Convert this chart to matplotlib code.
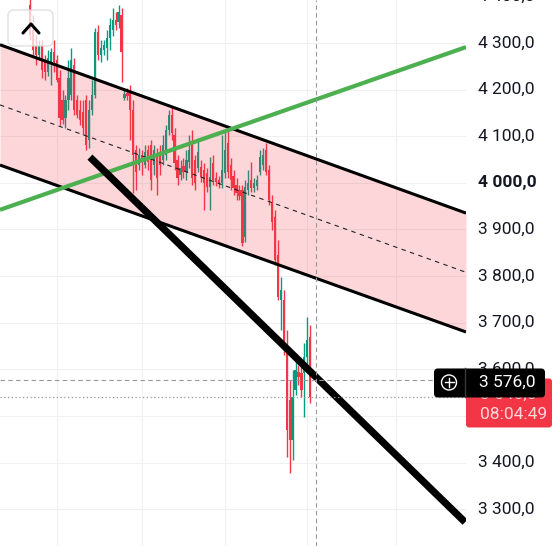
import matplotlib
matplotlib.use("Agg")
import matplotlib.pyplot as plt
from matplotlib.patches import FancyBboxPatch, Circle
import numpy as np

plt.rcParams['font.family'] = ['Roboto', 'DejaVu Sans']

# one candle per bar, prices
opens = [4382, 4328, 4296, 4274, 4296, 4264, 4238, 4259, 4281, 4264,
         4225, 4178, 4139, 4178, 4188, 4253, 4178, 4156, 4152, 4178,
         4092, 4156, 4188, 4324, 4274, 4285, 4289, 4311, 4328, 4349,
         4345, 4360, 4182, 4193, 4195, 4156, 4070, 4038, 4060, 4038,
         4070, 4081, 4038, 4060, 4060, 4049, 4060, 4113, 4146, 4103,
         4049, 4017, 4036, 4023, 4045, 4088, 4049, 4032, 4034, 4027,
         4021, 3991, 4043, 4010, 4006, 4000, 4021, 4085, 4038, 4015,
         3995, 3985, 3985, 3884, 3985, 4006, 3989, 3993, 4023, 4038,
         4070, 4027, 3957, 3927, 3845, 3749, 3749, 3652, 3534, 3448,
         3555, 3594, 3592, 3592, 3626, 3669]
highs = [4414, 4360, 4317, 4306, 4306, 4274, 4285, 4289, 4306, 4274,
         4242, 4199, 4188, 4264, 4289, 4268, 4188, 4178, 4178, 4188,
         4178, 4221, 4332, 4339, 4306, 4306, 4328, 4354, 4375, 4367,
         4382, 4375, 4199, 4203, 4210, 4178, 4081, 4075, 4070, 4081,
         4081, 4092, 4081, 4075, 4081, 4103, 4124, 4156, 4163, 4118,
         4060, 4049, 4053, 4070, 4103, 4113, 4060, 4092, 4049, 4043,
         4032, 4055, 4060, 4023, 4015, 4103, 4109, 4113, 4053, 4027,
         4010, 3995, 3995, 4006, 4027, 4045, 4010, 4017, 4070, 4075,
         4085, 4038, 3974, 3942, 3877, 3798, 3770, 3684, 3577, 3598,
         3620, 3609, 3609, 3656, 3712, 3695]
lows = [4306, 4274, 4253, 4264, 4225, 4221, 4229, 4210, 4238, 4216,
        4124, 4126, 4118, 4156, 4178, 4146, 4139, 4124, 4103, 4070,
        4075, 4146, 4182, 4264, 4259, 4274, 4264, 4285, 4315, 4328,
        4332, 4216, 4178, 4178, 4092, 3978, 3985, 4027, 4017, 4032,
        4027, 3985, 4017, 3974, 4017, 4038, 4049, 4103, 4092, 4027,
        3995, 4006, 4010, 4006, 4032, 3995, 3985, 4023, 4002, 3942,
        3980, 3942, 3995, 3993, 3989, 3989, 4010, 4010, 3985, 3974,
        3963, 3963, 3864, 3873, 3974, 3980, 3980, 3985, 4017, 4027,
        4017, 3952, 3899, 3824, 3749, 3684, 3631, 3412, 3377, 3405,
        3545, 3566, 3540, 3497, 3609, 3527]
closes = [4317, 4285, 4274, 4296, 4242, 4238, 4268, 4281, 4259, 4221,
          4139, 4135, 4178, 4225, 4264, 4156, 4146, 4135, 4118, 4081,
          4156, 4188, 4324, 4274, 4289, 4296, 4311, 4339, 4349, 4339,
          4367, 4281, 4191, 4186, 4156, 4060, 4023, 4060, 4045, 4066,
          4045, 4006, 4070, 4010, 4038, 4081, 4113, 4146, 4107, 4043,
          4010, 4032, 4023, 4049, 4070, 4010, 4000, 4066, 4012, 4000,
          3991, 4012, 4006, 4002, 3997, 4027, 4070, 4023, 4006, 3989,
          3978, 3972, 3871, 3991, 4000, 3989, 4000, 4006, 4055, 4060,
          4023, 3963, 3916, 3834, 3755, 3770, 3648, 3470, 3448, 3540,
          3598, 3583, 3555, 3626, 3663, 3540]

# drawings: (bar index, price) at both ends
channel_top = [(-10.2, 4296), (147.8, 3935)]
channel_bottom = [(-10.2, 4038), (147.8, 3680)]
channel_mid = [(-10.2, 4167), (147.8, 3808)]
green_line = [(-10.2, 3942), (147.8, 4291)]
black_line = [(20.3, 4055), (147.5, 3272)]

price_levels = [3300, 3400, 3500, 3600, 3700, 3800, 3900, 4000, 4100, 4200, 4300, 4400]
bold_level = 4000
time_grid = [9, 38, 66, 94, 124]
cursor_bar = 97
cursor_price = 3576.0
last_price = 3540.0
countdown = "08:04:49"

UP = '#089981'
DOWN = '#f23645'


def fmt(v):
    return f"{v:,.1f}".replace(",", " ").replace(".", ",")


fig = plt.figure(figsize=(5.6, 5.46), dpi=100)
ax = fig.add_axes([0, 0, 466 / 560, 1])
ax.set_xlim(-10.2, 147.8)
ax.set_ylim(3221, 4392)
ax.axis('off')

for v in price_levels:
    ax.axhline(v, color='#f0f0f0', lw=0.8, zorder=0)
for t in time_grid:
    ax.axvline(t, color='#f0f0f0', lw=0.8, zorder=0)

# candles
o, h, l, c = (np.array(a, dtype=float) for a in (opens, highs, lows, closes))
x = np.arange(len(o))
cols = np.where(c >= o, UP, DOWN)
ax.vlines(x, l, h, colors=cols, lw=1.0, zorder=2)
ax.bar(x, np.maximum(np.abs(c - o), 2.5), bottom=np.minimum(o, c), width=0.75,
       color=cols, lw=0, zorder=3)

# channel
xs = [channel_top[0][0], channel_top[1][0]]
ax.fill_between(xs, [p[1] for p in channel_bottom], [p[1] for p in channel_top],
                color=DOWN, alpha=0.2, lw=0, zorder=4)


def seg(pts, **kw):
    ax.plot([p[0] for p in pts], [p[1] for p in pts], solid_capstyle='butt', **kw)


seg(channel_top, color='black', lw=2.2, zorder=5)
seg(channel_bottom, color='black', lw=2.2, zorder=5)
ax.plot([p[0] for p in channel_mid], [p[1] for p in channel_mid], color='#222222',
        lw=0.8, ls=(0, (4, 4)), zorder=5)
seg(green_line, color='#4caf50', lw=3.0, zorder=5)
seg(black_line, color='black', lw=5.2, zorder=6)

# crosshair and last price
ax.axvline(cursor_bar, color='#9598a1', lw=0.8, ls=(0, (4, 3)), zorder=7)
ax.axhline(cursor_price, color='#9598a1', lw=0.8, ls=(0, (4, 3)), zorder=7)
ax.axhline(last_price, color='#9598a1', lw=0.9, ls=(0, (1, 2)), zorder=7)

# price scale labels
for v in price_levels:
    ax.text(1.026, v, fmt(v), transform=ax.get_yaxis_transform(), va='center', ha='left',
            fontsize=12.5, color='#131722', clip_on=False,
            fontweight='bold' if v == bold_level else 'normal')

# overlay in pixel units for the UI bits
ov = fig.add_axes([0, 0, 1, 1], zorder=10)
ov.set_xlim(0, 560)
ov.set_ylim(546, 0)
ov.axis('off')


def py(price):
    return 546 - ax.transData.transform((0, price))[1]


# scroll-up button
ov.add_patch(FancyBboxPatch((8, 10), 45, 36, boxstyle='round,pad=0,rounding_size=6',
                            fc='white', ec='#d6d6d6', lw=1, alpha=0.75, zorder=1))
ov.plot([23, 31, 39], [33, 24, 33], color='black', lw=2.2, solid_capstyle='round', zorder=2)

# crosshair label position (black box sits over the red one)
yc = py(cursor_price) + 2

# last price label (red), its price line mostly hidden behind the black box
ov.add_patch(FancyBboxPatch((466, yc - 4), 86, 49, boxstyle='round,pad=0,rounding_size=3',
                            fc=DOWN, ec='none', zorder=1))
ov.text(480, yc + 12, fmt(last_price), color='#ffd6da', fontsize=12.5, va='center',
        ha='left', zorder=2)
ov.text(480, yc + 32, countdown, color='#ffd6da', fontsize=12.5, va='center',
        ha='left', zorder=2)

ov.add_patch(FancyBboxPatch((434, yc - 14), 111, 29, boxstyle='round,pad=0,rounding_size=4',
                            fc='black', ec='none', zorder=5))
ov.plot([465, 465], [yc - 14, yc + 15], color='#3a3a3a', lw=1, zorder=6)
ov.add_patch(Circle((449, yc), 7.5, fc='none', ec='white', lw=1, zorder=6))
ov.plot([444.5, 453.5], [yc, yc], color='white', lw=1, zorder=6)
ov.plot([449, 449], [yc - 4.5, yc + 4.5], color='white', lw=1, zorder=6)
ov.text(479, yc, fmt(cursor_price), color='white', fontsize=12.5, va='center',
        ha='left', zorder=7)

fig.savefig('out.png', dpi=100, facecolor='white')
